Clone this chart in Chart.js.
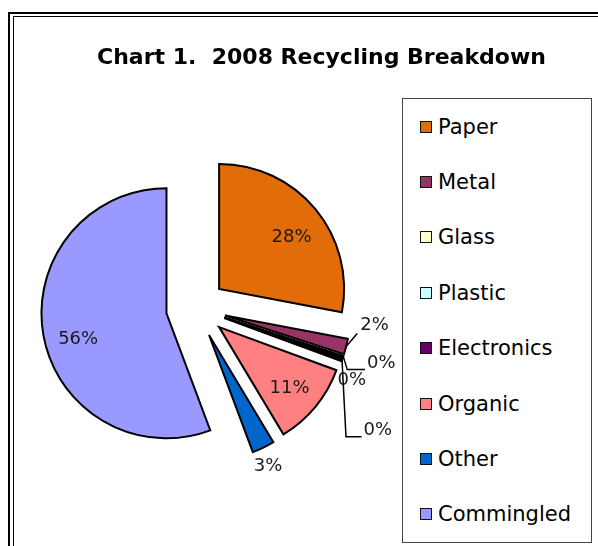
<!DOCTYPE html>
<html lang="en">
  <head>
    <meta charset="UTF-8" />
    <title>2008 Recycling Breakdown</title>
    <script src="https://cdn.jsdelivr.net/npm/chart.js"></script>
    <style>
      html,
      body {
        margin: 0;
        padding: 0;
        background: #fff;
        overflow: hidden;
      }
      body {
        position: relative;
        width: 598px;
        height: 546px;
        font-family: 'DejaVu Sans', sans-serif;
      }
      .frame {
        position: absolute;
        left: 8px;
        top: 12px;
        width: 700px;
        height: 700px;
        border: 2.5px solid #000;
      }
      .frame-inner {
        position: absolute;
        left: 12.5px;
        top: 15.5px;
        width: 700px;
        height: 700px;
        border-left: 1px solid #000;
        border-top: 1px solid #000;
      }
      #chart {
        position: absolute;
        left: 0;
        top: 0;
      }
      .title {
        position: absolute;
        left: 0;
        top: 44px;
        width: 643px;
        line-height: 26px;
        text-align: center;
        font-size: 22px;
        font-weight: bold;
        white-space: pre;
        color: #000;
      }
      .legend {
        position: absolute;
        left: 402px;
        top: 98px;
        width: 190px;
        height: 445px;
        box-sizing: border-box;
        border: 1.5px solid #444;
        background: #fff;
      }
      .legend .item {
        display: flex;
        align-items: center;
        height: 55.4px;
        padding-left: 17px;
        font-size: 21px;
        color: #000;
      }
      .legend .swatch {
        display: inline-block;
        width: 10px;
        height: 10px;
        border: 1.5px solid #111;
        margin-right: 6px;
      }
    </style>
  </head>

  <body>
    <div class="frame"></div>
    <div class="frame-inner"></div>
    <canvas id="chart" width="598" height="546"></canvas>
    <div class="title">Chart 1.  2008 Recycling Breakdown</div>
    <div class="legend" id="legend"></div>
  </body>
</html>

<script>
  const categories = ['Paper', 'Metal', 'Glass', 'Plastic', 'Electronics', 'Organic', 'Other', 'Commingled'];
  const shares = [28.0, 2.0, 0.1, 0.2, 0.3, 10.8, 2.9, 55.7];
  const sliceColors = ['#E36C0A', '#993366', '#FFFFCC', '#CCFFFF', '#660066', '#FF8080', '#0066CC', '#9999FF'];

  const EXPLODE = 30;
  const total = shares.reduce((a, b) => a + b, 0);

  // legend, built from the same arrays
  const legendBox = document.getElementById('legend');
  categories.forEach((name, i) => {
    const row = document.createElement('div');
    row.className = 'item';
    row.innerHTML = `<span class="swatch" style="background:${sliceColors[i]}"></span><span>${name}</span>`;
    legendBox.appendChild(row);
  });

  // pull every slice out from the centre by the same distance
  const explodePlugin = {
    id: 'explode',
    beforeDatasetDraw(chart, args) {
      const ctx = chart.ctx;
      args.meta.data.forEach((arc) => {
        const mid = (arc.startAngle + arc.endAngle) / 2;
        ctx.save();
        ctx.translate(Math.cos(mid) * EXPLODE, Math.sin(mid) * EXPLODE);
        arc.draw(ctx);
        ctx.restore();
      });
      return false;
    },
  };

  // percent labels, inside big slices, outside small ones
  const pieLabels = {
    id: 'pieLabels',
    afterDraw(chart, args, opts) {
      const ctx = chart.ctx;
      const meta = chart.getDatasetMeta(0);
      ctx.save();
      ctx.font = '18px "DejaVu Sans"';
      ctx.fillStyle = '#1a1a1a';
      ctx.strokeStyle = '#000';
      ctx.lineWidth = 1.5;
      ctx.textAlign = 'center';
      ctx.textBaseline = 'middle';
      meta.data.forEach((arc, i) => {
        const mid = (arc.startAngle + arc.endAngle) / 2;
        const r = arc.outerRadius;
        const cx = arc.x + Math.cos(mid) * EXPLODE;
        const cy = arc.y + Math.sin(mid) * EXPLODE;
        const text = Math.round((shares[i] / total) * 100) + '%';
        const n = opts.nudge[i] || { dx: 0, dy: 0 };
        if (shares[i] / total >= 0.05) {
          ctx.fillText(text, cx + Math.cos(mid) * r * 0.71 + n.dx, cy + Math.sin(mid) * r * 0.71 + n.dy);
          return;
        }
        const tx = cx + Math.cos(mid) * r;
        const ty = cy + Math.sin(mid) * r;
        const lx = tx + Math.cos(mid) * 20 + n.dx;
        const ly = ty + Math.sin(mid) * 20 + n.dy;
        ctx.fillText(text, lx, ly);
        if (n.leader) {
          const left = lx - ctx.measureText(text).width / 2 - 3;
          ctx.beginPath();
          ctx.moveTo(tx, ty);
          if (ly + 6 > ty) {
            ctx.lineTo(tx + 4, ly + 6);
            ctx.lineTo(left + 1, ly + 6);
          } else {
            ctx.lineTo(left, ly + 8);
          }
          ctx.stroke();
        }
      });
      ctx.restore();
    },
  };

  new Chart(document.getElementById('chart'), {
    type: 'pie',
    data: {
      labels: categories,
      datasets: [
        {
          data: shares,
          backgroundColor: sliceColors,
          borderColor: '#000',
          borderWidth: 2,
          borderJoinStyle: 'miter',
          radius: 125,
        },
      ],
    },
    options: {
      responsive: false,
      animation: false,
      events: [],
      layout: { padding: { left: 0, right: 206, top: 70, bottom: 0 } },
      plugins: {
        legend: { display: false },
        tooltip: { enabled: false },
        pieLabels: {
          nudge: [
            { dx: 4, dy: 5 },
            { dx: 9, dy: -26, leader: true },
            { dx: 19, dy: 1, leader: true },
            { dx: -10, dy: 16 },
            { dx: 17, dy: 64, leader: true },
            { dx: 2, dy: 5 },
            { dx: -4, dy: 1 },
            { dx: -1, dy: 10 },
          ],
        },
      },
    },
    plugins: [explodePlugin, pieLabels],
  });
</script>
